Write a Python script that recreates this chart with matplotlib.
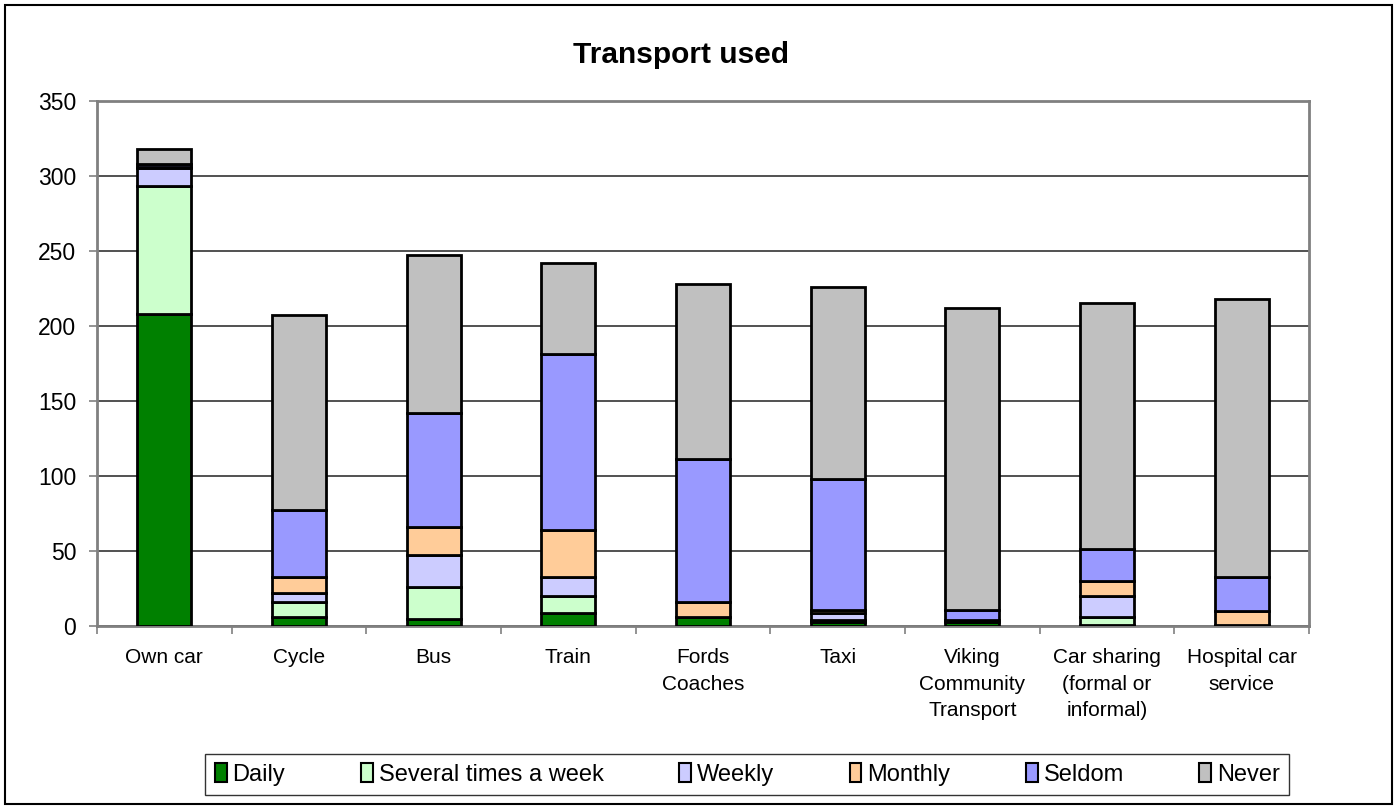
import numpy as np
import matplotlib
matplotlib.use('Agg')
import matplotlib.pyplot as plt
from matplotlib.patches import Rectangle, Patch

plt.rcParams['font.family'] = ['Liberation Sans', 'DejaVu Sans']

# data
categories = ['Own car', 'Cycle', 'Bus', 'Train', 'Fords\nCoaches', 'Taxi',
              'Viking\nCommunity\nTransport', 'Car sharing\n(formal or\ninformal)',
              'Hospital car\nservice']
series_names = ['Daily', 'Several times a week', 'Weekly', 'Monthly', 'Seldom', 'Never']
daily = [208, 6, 5, 9, 6, 3, 3, 1, 1]
several = [85, 10, 21, 11, 0, 1, 1, 5, 0]
weekly = [12, 6, 21, 13, 0, 5, 0, 14, 0]
monthly = [1, 11, 19, 31, 10, 2, 0, 10, 9]
seldom = [2, 44, 76, 117, 95, 87, 7, 21, 23]
never = [10, 130, 105, 61, 117, 128, 201, 164, 185]
yticks = [0, 50, 100, 150, 200, 250, 300, 350]

colors = ['#008000', '#CCFFCC', '#CCCCFF', '#FFCC99', '#9999FF', '#C0C0C0']

fig = plt.figure(figsize=(13.97, 8.09), dpi=100)
ax = fig.add_axes([0.0694, 0.2262, 0.8676, 0.649])

x = np.arange(len(categories))
bottom = np.zeros(len(categories))
for vals, c in zip([daily, several, weekly, monthly, seldom, never], colors):
    ax.bar(x, vals, 0.4, bottom=bottom, color=c, edgecolor='black', lw=2, zorder=3)
    bottom += np.array(vals)

ax.set_xlim(-0.5, len(categories) - 0.5)
ax.set_ylim(0, 350)
ax.set_yticks(yticks)
ax.set_yticklabels([str(t) for t in yticks], fontsize=16.5)
ax.yaxis.grid(True, color='#333333', lw=1.2, zorder=0)
ax.set_axisbelow(True)

ax.set_xticks(x)
ax.set_xticklabels(categories, fontsize=15, linespacing=1.5, va='top')
ax.set_xticks(np.arange(len(categories) + 1) - 0.5, minor=True)
ax.tick_params(axis='x', which='major', length=0, pad=16)
ax.tick_params(axis='x', which='minor', length=6, width=1.2, color='#808080', direction='out')
ax.tick_params(axis='y', length=6, width=1.2, color='#808080', pad=9)

for s in ax.spines.values():
    s.set_color('#808080')
    s.set_linewidth(2)

fig.text(0.4875, 0.932, 'Transport used', fontsize=21.5, weight='bold', ha='center', va='center')

handles = [Patch(facecolor=c, edgecolor='black', lw=1.5) for c in colors]
leg = fig.legend(handles, series_names, loc='center', bbox_to_anchor=(0.535, 0.0425), ncol=6,
                 fontsize=17, frameon=True, fancybox=False, handlelength=0.5, handleheight=0.8,
                 handletextpad=0.25, columnspacing=3.2, borderpad=0.4)
leg.get_frame().set_edgecolor('black')
leg.get_frame().set_linewidth(1)

# outer chart border
fig.patches.append(Rectangle((5 / 1397, 5 / 809), 1387 / 1397, 799 / 809, transform=fig.transFigure,
                             fill=False, edgecolor='black', lw=1.5))

fig.savefig('out.png', dpi=100)
